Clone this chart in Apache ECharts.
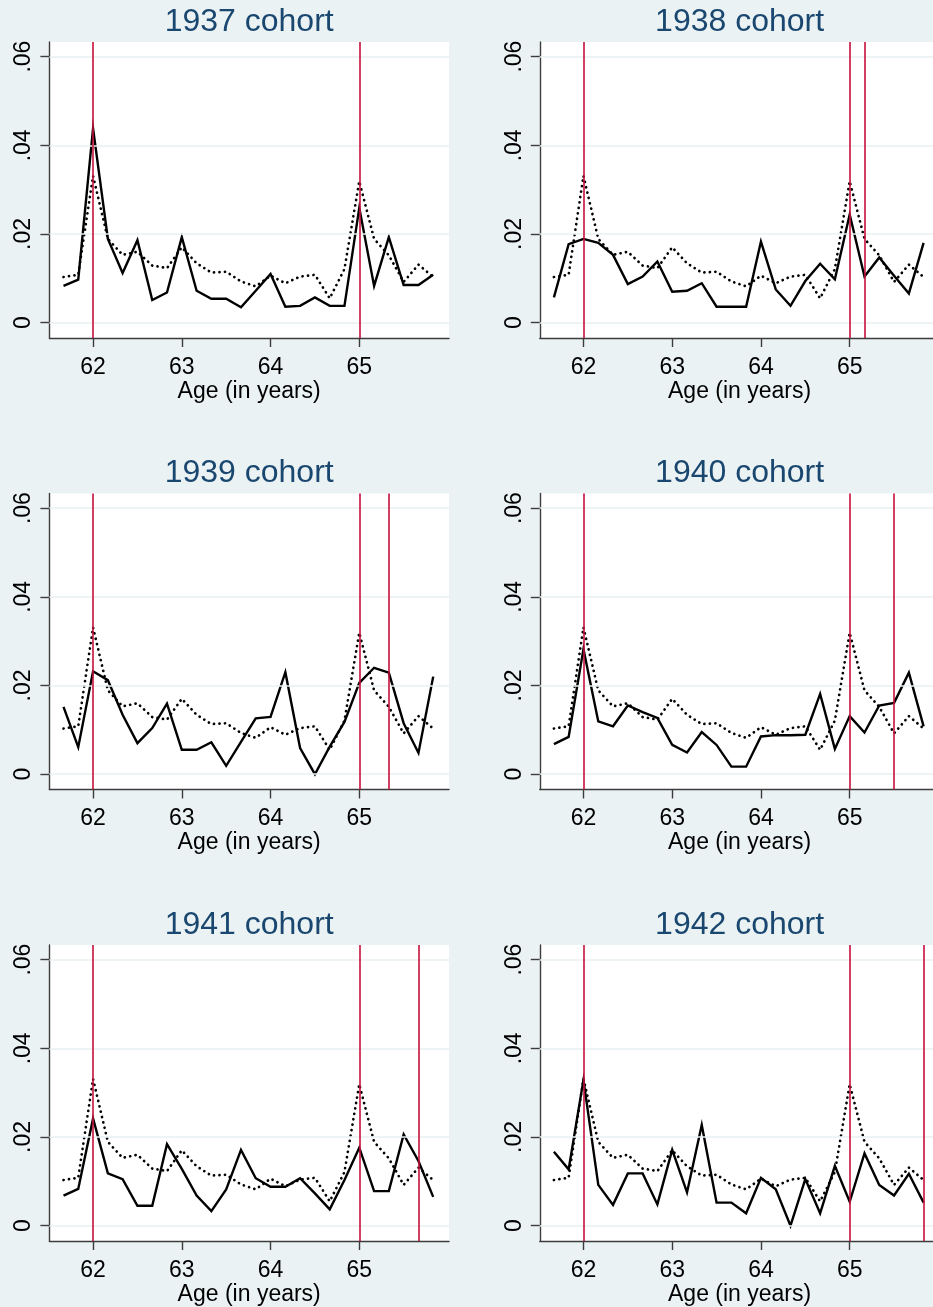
<!DOCTYPE html>
<html>
<head>
<meta charset="utf-8">
<title>Retirement hazard by cohort</title>
<script src="https://cdn.jsdelivr.net/npm/echarts@6/dist/echarts.min.js"></script>
<style>
  html, body { margin: 0; padding: 0; background: #eaf2f3; overflow: hidden; }
  /* a bit wider than the window: the right column is cut off at the edge like the original */
  #chart { width: 945px; height: 1307px; }
</style>
</head>
<body>
<div id="chart"></div>
<script>
// ages in years, 2-month steps
const ages = [61.667, 61.833, 62.000, 62.167, 62.333, 62.500, 62.667, 62.833, 63.000, 63.167,
  63.333, 63.500, 63.667, 63.833, 64.000, 64.167, 64.333, 64.500, 64.667, 64.833,
  65.000, 65.167, 65.333, 65.500, 65.667, 65.833]

const cohorts = ['1937 cohort', '1938 cohort', '1939 cohort', '1940 cohort', '1941 cohort', '1942 cohort']

// dotted reference line (same in every panel)
const baseline = [0.0103, 0.0108, 0.0331, 0.0189, 0.0153, 0.0160, 0.0129, 0.0123, 0.0170, 0.0134,
  0.0113, 0.0115, 0.0093, 0.0082, 0.0106, 0.0089, 0.0104, 0.0108, 0.0055, 0.0121,
  0.0319, 0.0189, 0.0152, 0.0092, 0.0131, 0.0103]

// solid line for each cohort
const hazard1937 = [0.0083, 0.0097, 0.0438, 0.0189, 0.0112, 0.0186, 0.0051, 0.0068, 0.0193, 0.0072,
  0.0054, 0.0054, 0.0035, 0.0072, 0.0110, 0.0036, 0.0038, 0.0057, 0.0038, 0.0038,
  0.0259, 0.0083, 0.0193, 0.0085, 0.0085, 0.0108]
const hazard1938 = [0.0057, 0.0177, 0.0189, 0.0180, 0.0153, 0.0087, 0.0104, 0.0138, 0.0070, 0.0072,
  0.0089, 0.0036, 0.0036, 0.0036, 0.0183, 0.0075, 0.0038, 0.0094, 0.0133, 0.0098,
  0.0244, 0.0104, 0.0147, 0.0106, 0.0066, 0.0180]
const hazard1939 = [0.0152, 0.0061, 0.0232, 0.0212, 0.0134, 0.0070, 0.0104, 0.0159, 0.0055, 0.0055,
  0.0072, 0.0019, 0.0073, 0.0126, 0.0129, 0.0230, 0.0059, 0.0000, 0.0062, 0.0118,
  0.0206, 0.0240, 0.0229, 0.0115, 0.0048, 0.0220]
const hazard1940 = [0.0068, 0.0084, 0.0282, 0.0119, 0.0108, 0.0155, 0.0140, 0.0127, 0.0066, 0.0049,
  0.0095, 0.0066, 0.0017, 0.0017, 0.0085, 0.0088, 0.0088, 0.0089, 0.0181, 0.0057,
  0.0131, 0.0094, 0.0155, 0.0161, 0.0229, 0.0108]
const hazard1941 = [0.0068, 0.0083, 0.0242, 0.0118, 0.0105, 0.0045, 0.0045, 0.0184, 0.0128, 0.0068,
  0.0033, 0.0082, 0.0171, 0.0107, 0.0088, 0.0088, 0.0107, 0.0073, 0.0037, 0.0103,
  0.0176, 0.0078, 0.0078, 0.0206, 0.0146, 0.0065]
const hazard1942 = [0.0167, 0.0127, 0.0329, 0.0092, 0.0047, 0.0118, 0.0118, 0.0048, 0.0171, 0.0075,
  0.0227, 0.0052, 0.0052, 0.0028, 0.0108, 0.0082, 0.0000, 0.0105, 0.0028, 0.0135,
  0.0054, 0.0163, 0.0092, 0.0068, 0.0117, 0.0052]
const hazards = [hazard1937, hazard1938, hazard1939, hazard1940, hazard1941, hazard1942]

// red reference ages: 62, 65 and the full retirement age of the cohort
const refAges = [
  [62, 65],
  [62, 65, 65.167],
  [62, 65, 65.333],
  [62, 65, 65.5],
  [62, 65, 65.667],
  [62, 65, 65.833]
]

const xTicks = [62, 63, 64, 65]
const yTicks = [0, 0.02, 0.04, 0.06]
const yTickLabels = ['0', '.02', '.04', '.06']

const FONT = '"Liberation Sans", Arial, sans-serif'
const colLeft = [49.4, 539.8]
const rowTop = [42, 493.5, 945]
const titleTop = [6, 457.5, 909]
const plotW = 399.6
const plotH = 296

const grids = []
const xAxes = []
const yAxes = []
const titles = []
const series = []

cohorts.forEach((name, i) => {
  const col = i % 2
  const row = Math.floor(i / 2)
  grids.push({
    left: colLeft[col],
    top: rowTop[row],
    width: plotW,
    height: plotH,
    show: true,
    backgroundColor: '#ffffff',
    borderWidth: 0
  })
  titles.push({
    text: name,
    left: colLeft[col] + plotW / 2,
    top: titleTop[row],
    textAlign: 'center',
    padding: 0,
    textStyle: { color: '#1a476f', fontFamily: FONT, fontSize: 32, fontWeight: 'normal' }
  })
  xAxes.push({
    gridIndex: i,
    type: 'value',
    min: 61.508,
    max: 66.011,
    position: 'bottom',
    name: 'Age (in years)',
    nameLocation: 'middle',
    nameGap: 40,
    nameTextStyle: { color: '#000', fontFamily: FONT, fontSize: 23 },
    axisLine: { show: true, onZero: false, lineStyle: { color: '#3c3c3c', width: 1.4 } },
    axisTick: { show: true, length: 9, customValues: xTicks, lineStyle: { color: '#3c3c3c', width: 1.4 } },
    axisLabel: { customValues: xTicks, margin: 18, color: '#000', fontFamily: FONT, fontSize: 23 },
    splitLine: { show: false }
  })
  yAxes.push({
    gridIndex: i,
    type: 'value',
    min: -0.00345,
    max: 0.0633,
    axisLine: { show: true, onZero: false, lineStyle: { color: '#3c3c3c', width: 1.4 } },
    axisTick: { show: true, length: 9, customValues: yTicks, lineStyle: { color: '#3c3c3c', width: 1.4 } },
    axisLabel: {
      customValues: yTicks,
      rotate: 90,
      margin: 14,
      color: '#000',
      fontFamily: FONT,
      fontSize: 23,
      formatter: (v) => yTickLabels[yTicks.findIndex(t => Math.abs(t - v) < 1e-9)] ?? ''
    },
    splitLine: { show: false }
  })

  // background grid lines and red reference lines
  series.push({
    type: 'line',
    xAxisIndex: i,
    yAxisIndex: i,
    data: [],
    z: 1,
    silent: true,
    markLine: {
      silent: true,
      symbol: 'none',
      label: { show: false },
      animation: false,
      data: yTicks.map(v => ({ yAxis: v, lineStyle: { color: '#e8f0f2', width: 1.6, type: 'solid' } }))
        .concat(refAges[i].map(a => ({ xAxis: a, lineStyle: { color: '#c8103c', width: 1.6, type: 'solid' } })))
    }
  })
  series.push({
    type: 'line',
    xAxisIndex: i,
    yAxisIndex: i,
    data: ages.map((a, k) => [a, baseline[k]]),
    showSymbol: false,
    z: 2,
    lineStyle: { color: '#000', width: 2.7, type: [0.1, 5.4], cap: 'round', join: 'round' }
  })
  series.push({
    type: 'line',
    xAxisIndex: i,
    yAxisIndex: i,
    data: ages.map((a, k) => [a, hazards[i][k]]),
    showSymbol: false,
    z: 3,
    lineStyle: { color: '#000', width: 2.4, join: 'miter' }
  })
})

const chart = echarts.init(document.getElementById('chart'))
chart.setOption({
  backgroundColor: '#eaf2f3',
  animation: false,
  title: titles,
  grid: grids,
  xAxis: xAxes,
  yAxis: yAxes,
  series: series
})
window.addEventListener('resize', () => chart.resize())
</script>
</body>
</html>
